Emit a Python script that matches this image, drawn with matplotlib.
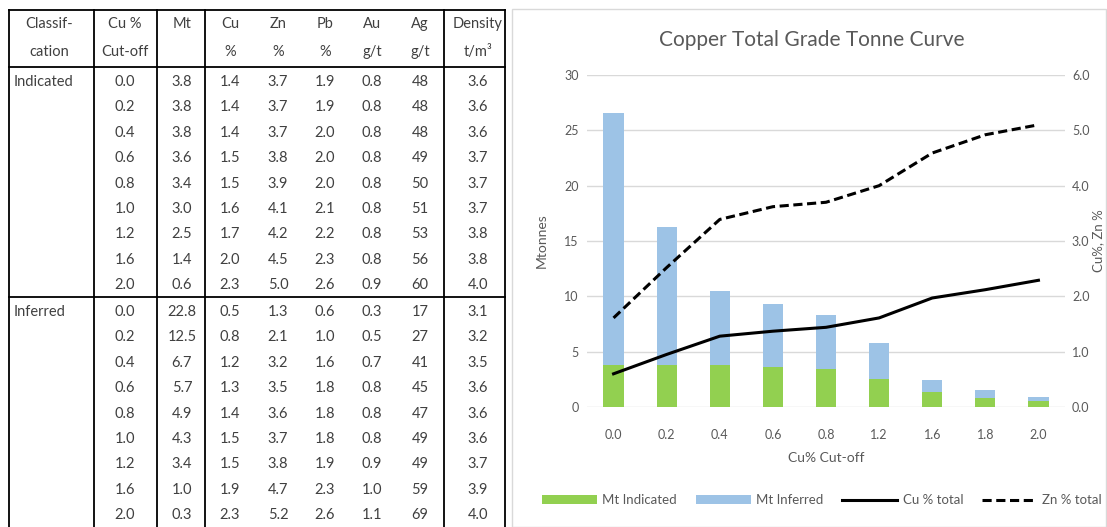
import matplotlib.pyplot as plt
from matplotlib.patches import Rectangle

plt.rcParams['font.family'] = ['Lato', 'DejaVu Sans']

# table data
classes = ['Indicated', 'Inferred']
cutoffs = [0.0, 0.2, 0.4, 0.6, 0.8, 1.0, 1.2, 1.6, 2.0]
ind_mt = [3.8, 3.8, 3.8, 3.6, 3.4, 3.0, 2.5, 1.4, 0.6]
ind_cu = [1.4, 1.4, 1.4, 1.5, 1.5, 1.6, 1.7, 2.0, 2.3]
ind_zn = [3.7, 3.7, 3.7, 3.8, 3.9, 4.1, 4.2, 4.5, 5.0]
ind_pb = [1.9, 1.9, 2.0, 2.0, 2.0, 2.1, 2.2, 2.3, 2.6]
ind_au = [0.8, 0.8, 0.8, 0.8, 0.8, 0.8, 0.8, 0.8, 0.9]
ind_ag = [48, 48, 48, 49, 50, 51, 53, 56, 60]
ind_den = [3.6, 3.6, 3.6, 3.7, 3.7, 3.7, 3.8, 3.8, 4.0]
inf_mt = [22.8, 12.5, 6.7, 5.7, 4.9, 4.3, 3.4, 1.0, 0.3]
inf_cu = [0.5, 0.8, 1.2, 1.3, 1.4, 1.5, 1.5, 1.9, 2.3]
inf_zn = [1.3, 2.1, 3.2, 3.5, 3.6, 3.7, 3.8, 4.7, 5.2]
inf_pb = [0.6, 1.0, 1.6, 1.8, 1.8, 1.8, 1.9, 2.3, 2.6]
inf_au = [0.3, 0.5, 0.7, 0.8, 0.8, 0.8, 0.9, 1.0, 1.1]
inf_ag = [17, 27, 41, 45, 47, 49, 49, 59, 69]
inf_den = [3.1, 3.2, 3.5, 3.6, 3.6, 3.6, 3.7, 3.9, 4.0]
header1 = ['Classif-', 'Cu %', 'Mt', 'Cu', 'Zn', 'Pb', 'Au', 'Ag', 'Density']
header2 = ['cation', 'Cut-off', '', '%', '%', '%', 'g/t', 'g/t', 't/m³']

# chart data
chart_cut = ['0.0', '0.2', '0.4', '0.6', '0.8', '1.2', '1.6', '1.8', '2.0']
mt_indicated = [3.8, 3.8, 3.8, 3.6, 3.4, 2.5, 1.4, 0.8, 0.5]
mt_inferred = [22.8, 12.5, 6.7, 5.7, 4.9, 3.3, 1.0, 0.7, 0.4]
cu_total = [0.60, 0.95, 1.28, 1.37, 1.44, 1.61, 1.97, 2.12, 2.29]
zn_total = [1.61, 2.52, 3.39, 3.62, 3.70, 4.00, 4.59, 4.92, 5.10]

W, H = 1107, 527
fig = plt.figure(figsize=(W / 100, H / 100), dpi=100)

# ---- table (drawn in pixel coordinates) ----
tb = fig.add_axes([0, 0, 1, 1])
tb.set_xlim(0, W)
tb.set_ylim(H, 0)
tb.axis('off')

tc = '#404040'
fs = 10.5
col_x = [49, 125, 182, 230, 278, 325, 372, 420, 478]
for x, h1, h2 in zip(col_x, header1, header2):
    tb.text(x, 24, h1, ha='center', va='center', fontsize=fs, color=tc)
    tb.text(x, 52, h2, ha='center', va='center', fontsize=fs, color=tc)

groups = [
    (82, ind_mt, ind_cu, ind_zn, ind_pb, ind_au, ind_ag, ind_den),
    (312, inf_mt, inf_cu, inf_zn, inf_pb, inf_au, inf_ag, inf_den),
]
dy = 25.4
for name, (y0, mt, cu, zn, pb, au, ag, den) in zip(classes, groups):
    tb.text(14, y0, name, ha='left', va='center', fontsize=fs, color=tc)
    for i in range(len(cutoffs)):
        y = y0 + i * dy
        vals = ['%.1f' % cutoffs[i], '%.1f' % mt[i], '%.1f' % cu[i], '%.1f' % zn[i],
                '%.1f' % pb[i], '%.1f' % au[i], '%d' % ag[i], '%.1f' % den[i]]
        for x, v in zip(col_x[1:], vals):
            tb.text(x, y, v, ha='center', va='center', fontsize=fs, color=tc)

lc = '#000000'
for xv in [9, 94, 157, 205, 444, 505]:
    tb.plot([xv, xv], [10, H], color=lc, lw=1.3)
for yv in [10, 67, 297]:
    tb.plot([9, 505], [yv, yv], color=lc, lw=1.3)

# chart frame
fig.patches.append(Rectangle((512 / W, 0), (W - 513) / W, (H - 9) / H,
                             transform=fig.transFigure, fill=False,
                             edgecolor='#D9D9D9', lw=1))

# ---- chart ----
ax = fig.add_axes([587 / W, (H - 407) / H, 478 / W, 332 / H])
x = range(len(chart_cut))
ax.bar(x, mt_indicated, width=0.38, color='#92D050', label='Mt Indicated', zorder=2)
ax.bar(x, mt_inferred, width=0.38, bottom=mt_indicated, color='#9DC3E6',
       label='Mt Inferred', zorder=2)
ax.set_xlim(-0.5, len(chart_cut) - 0.5)
ax.set_ylim(0, 30)
ax.set_yticks(range(0, 31, 5))
ax.set_xticks(list(x))
ax.set_xticklabels(chart_cut)
ax.grid(axis='y', color='#D9D9D9', lw=1, zorder=0)
for s in ax.spines.values():
    s.set_visible(False)
ax.tick_params(length=0, colors='#595959', labelsize=9)
ax.tick_params(axis='x', pad=16)
ax.tick_params(axis='y', pad=6)
ax.set_xlabel('Cu% Cut-off', fontsize=10, color='#595959', labelpad=8)
ax.set_ylabel('Mtonnes', fontsize=10, color='#595959', labelpad=12)

ax2 = ax.twinx()
ax2.plot(x, cu_total, color='black', lw=2.2, label='Cu % total')
ax2.plot(x, zn_total, color='black', lw=2.2, ls=(0, (3, 1.5)), label='Zn % total')
ax2.set_ylim(0, 6)
ax2.set_yticks([0, 1, 2, 3, 4, 5, 6])
ax2.set_yticklabels(['%.1f' % v for v in [0, 1, 2, 3, 4, 5, 6]])
for s in ax2.spines.values():
    s.set_visible(False)
ax2.tick_params(length=0, colors='#595959', labelsize=9, pad=5)
ax2.set_ylabel('Cu%, Zn %', fontsize=9.5, color='#595959', va='center')
ax2.yaxis.set_label_coords((1098 - 587) / 478, 0.5)

fig.text(812 / W, 1 - 40 / H, 'Copper Total Grade Tonne Curve', ha='center',
         va='center', fontsize=15, color='#595959')

h1, l1 = ax.get_legend_handles_labels()
h2, l2 = ax2.get_legend_handles_labels()
fig.legend(h1 + h2, l1 + l2, loc='center', bbox_to_anchor=(822 / W, 1 - 500 / H),
           ncol=4, frameon=False, fontsize=9.5, handlelength=4.2, handleheight=0.6,
           columnspacing=1.4, handletextpad=0.4, labelcolor='#595959')

fig.savefig('out.png', dpi=100)
